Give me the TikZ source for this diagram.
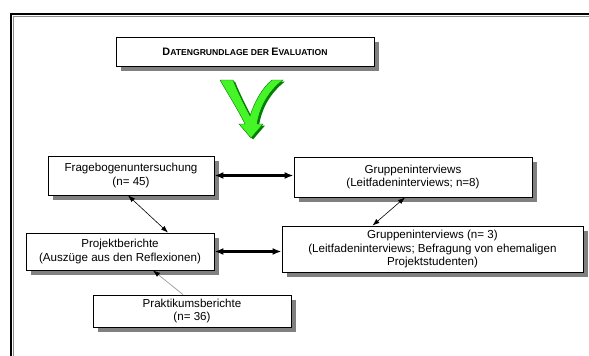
\documentclass[tikz,border=0pt]{standalone}
\usepackage{fontspec}
\setmainfont{Liberation Sans}
\usetikzlibrary{shapes,arrows,arrows.meta,shadows}

\newcommand{\bigletter}[1]{{\fontsize{10.8}{12}\selectfont #1}}

\begin{document}
\begin{tikzpicture}[x=1pt,y=-1pt,font=\fontsize{11.6}{13.5}\selectfont]
\tikzstyle{block} = [rectangle, draw=black, line width=0.9pt, fill=white, align=center, inner sep=0pt, drop shadow={shadow xshift=5pt, shadow yshift=-5pt, fill=black!50, opacity=1}]
\tikzstyle{headline} = [block, font=\fontsize{8.6}{10}\selectfont\bfseries]
\tikzstyle{line} = [draw, line width=2.2pt, {Latex[length=9pt,width=7pt]}-{Latex[length=9pt,width=7pt]}]
\tikzstyle{thinline} = [draw, line width=0.6pt, {Latex[length=7pt,width=5pt]}-{Latex[length=7pt,width=5pt]}]
\tikzstyle{feed} = [draw=black!45, line width=0.6pt, -{Latex[black,length=7pt,width=5pt]}]
\tikzstyle{frame} = [draw, line width=2pt]
\tikzstyle{vshape} = [insert path={(220,80) -- (233,80) .. controls (239,95) and (245,106) .. (250,116)
  .. controls (254,103) and (262,88) .. (272,80) -- (283,80)
  .. controls (270,90) and (260,105) .. (257,124) -- (263,124) -- (251,138) -- (239,124) -- (245,124)
  .. controls (237,108) and (228,94) .. (220,80) -- cycle}]

\useasboundingbox (0,0) rectangle (589,356);

% outer frame
\draw[black!45, line width=1pt] (13,356) -- (13,16) -- (589,16);
\draw[frame] (11,356) -- (11,14) -- (589,14);

% green arrow
\path[fill=green!50!black, shift={(2,1.5)}, vshape];
\path[fill={rgb,255:red,70;green,245;blue,40}, draw=green!45!black, line width=0.4pt, vshape];

% boxes
\node[headline, minimum width=258, minimum height=29] (title) at (245,51.5) {\bigletter{D}ATENGRUNDLAGE DER \bigletter{E}VALUATION};
\node[block, minimum width=166, minimum height=39] (frage) at (131,175.5) {Fragebogenuntersuchung\\(n= 45)};
\node[block, minimum width=238, minimum height=40] (gruppe) at (413,177) {Gruppeninterviews\\(Leitfadeninterviews; n=8)};
\node[block, minimum width=188, minimum height=37] (projekt) at (120,251.5) {Projektberichte\\(Auszüge aus den Reflexionen)};
\node[block, minimum width=301, minimum height=46] (ehemalige) at (432.5,249) {Gruppeninterviews (n= 3)\\(Leitfadeninterviews; Befragung von ehemaligen\\Projektstudenten)};
\node[block, minimum width=198, minimum height=32] (praktikum) at (192,311) {Praktikumsberichte\\(n= 36)};

% connections
\draw[line] (frage.east) -- (frage.east -| gruppe.west);
\draw[line] (projekt.east) -- (projekt.east -| ehemalige.west);
\draw[thinline] ([xshift=-3pt]frage.south) -- ([xshift=48pt]projekt.north);
\draw[thinline] ([xshift=-8pt]gruppe.south) -- ([xshift=-60pt]ehemalige.north);
\draw[feed] ([xshift=-9pt]praktikum.north) -- ([xshift=33pt]projekt.south);
\end{tikzpicture}
\end{document}
